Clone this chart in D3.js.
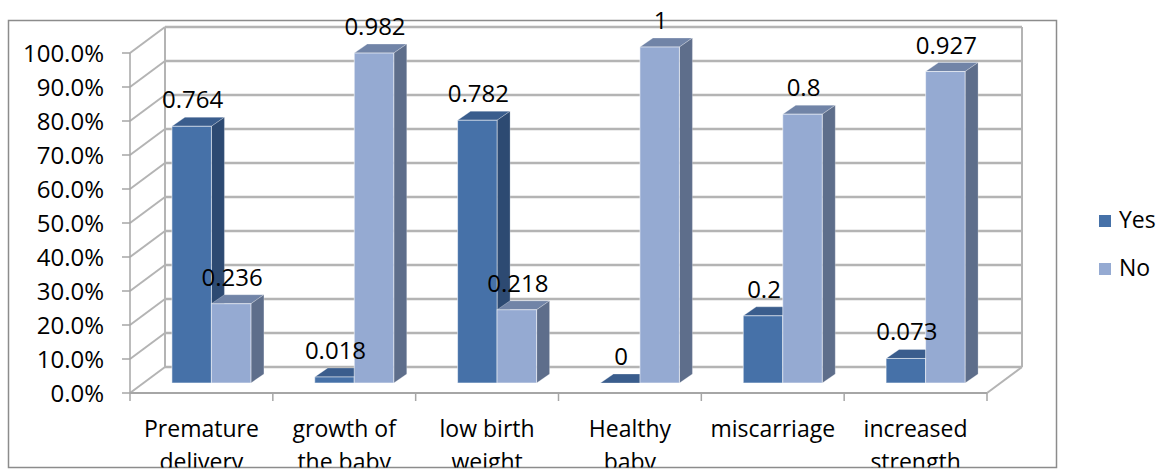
<!DOCTYPE html>
<html>
<head>
<meta charset="utf-8">
<script src="https://cdn.jsdelivr.net/npm/d3@7"></script>
<style>
  body { margin: 0; background: #fff; }
  text { font-family: "Open Sans", "Noto Sans", sans-serif; fill: #000; }
</style>
</head>
<body>
<svg id="chart" width="1169" height="469"></svg>
<script>
// Survey results: share answering Yes / No for each outcome
const categories = ["Premature\ndelivery", "growth of\nthe baby", "low birth\nweight", "Healthy\nbaby", "miscarriage", "increased\nstrength"];
const seriesNames = ["Yes", "No"];
const yesValues = [0.764, 0.018, 0.782, 0, 0.2, 0.073];
const noValues  = [0.236, 0.982, 0.218, 1, 0.8, 0.927];
const yTicks = [0, 0.1, 0.2, 0.3, 0.4, 0.5, 0.6, 0.7, 0.8, 0.9, 1.0];

const colors = {
  Yes: { front: "#4671a8", top: "#3a5d8d", side: "#2d4a72" },
  No:  { front: "#95aad2", top: "#7184a7", side: "#5e6e8b" }
};

const svg = d3.select("#chart");

// everything below the frame's bottom edge is cut away
svg.append("defs").append("clipPath").attr("id", "frameClip")
  .append("rect").attr("x", 0).attr("y", 0).attr("width", 1169).attr("height", 467.5);
const g = svg.append("g").attr("clip-path", "url(#frameClip)");

// front plane of the 3D box
const left = 130, right = 987, floorY = 393, topY = 53;
const wall = { dx: 35, dy: -26 };          // depth offset of the back wall
const barDepth = { dx: 13, dy: -9 };       // depth of each column
const barPlane = { dx: 10, base: 383, top: 47 }; // plane where column fronts sit

const x = d3.scaleBand().domain(categories).range([left, right]);
const yAxis = d3.scaleLinear().domain([0, 1]).range([floorY, topY]);
const yBar = d3.scaleLinear().domain([0, 1]).range([barPlane.base, barPlane.top]);
const xs = d3.scaleBand().domain(seriesNames).range([-39.5, 39.5]);

const gridColor = "#b4b4b4";
const numFont = "24px";
const catFont = "23px";

// chart frame (drawn first so texts sit over it)
svg.insert("rect", ":first-child").attr("x", 8.5).attr("y", 20.5).attr("width", 1048).attr("height", 447)
  .attr("fill", "none").attr("stroke", "#8c8c8c").attr("stroke-width", 1.5);

// side wall and back wall gridlines
yTicks.forEach(t => {
  const y0 = yAxis(t);
  g.append("line").attr("x1", left).attr("y1", y0).attr("x2", left + wall.dx).attr("y2", y0 + wall.dy)
    .attr("stroke", gridColor).attr("stroke-width", 2);
  g.append("line").attr("x1", left + wall.dx).attr("y1", y0 + wall.dy).attr("x2", right + wall.dx).attr("y2", y0 + wall.dy)
    .attr("stroke", gridColor).attr("stroke-width", 2.5);
});
// wall edges
g.append("line").attr("x1", left + wall.dx).attr("y1", yAxis(1) + wall.dy).attr("x2", left + wall.dx).attr("y2", yAxis(0) + wall.dy)
  .attr("stroke", gridColor).attr("stroke-width", 2);
g.append("line").attr("x1", right + wall.dx).attr("y1", yAxis(1) + wall.dy).attr("x2", right + wall.dx).attr("y2", yAxis(0) + wall.dy)
  .attr("stroke", gridColor).attr("stroke-width", 2);
// floor edges
g.append("line").attr("x1", right).attr("y1", floorY).attr("x2", right + wall.dx).attr("y2", floorY + wall.dy)
  .attr("stroke", gridColor).attr("stroke-width", 2);
g.append("line").attr("x1", left).attr("y1", floorY).attr("x2", right).attr("y2", floorY)
  .attr("stroke", "#a6a6a6").attr("stroke-width", 2);
// front value axis
g.append("line").attr("x1", left).attr("y1", yAxis(1)).attr("x2", left).attr("y2", floorY)
  .attr("stroke", "#a6a6a6").attr("stroke-width", 1.5);

// value axis ticks and labels
const fmt = d3.format(".1%");
yTicks.forEach(t => {
  g.append("line").attr("x1", left - 8).attr("y1", yAxis(t)).attr("x2", left).attr("y2", yAxis(t))
    .attr("stroke", "#a6a6a6").attr("stroke-width", 1.5);
  g.append("text").attr("x", left - 26).attr("y", yAxis(t)).attr("dy", "0.36em")
    .attr("text-anchor", "end").style("font-size", numFont).text(fmt(t));
});

// category ticks
const bounds = categories.map(c => x(c)).concat([right]);
bounds.forEach(b => {
  g.append("line").attr("x1", b).attr("y1", floorY).attr("x2", b).attr("y2", floorY + 8)
    .attr("stroke", "#a6a6a6").attr("stroke-width", 1.5);
});

// category labels
categories.forEach(c => {
  const cx = x(c) + x.bandwidth() / 2;
  const t = g.append("text").attr("x", cx).attr("y", 437)
    .attr("text-anchor", "middle").style("font-size", catFont);
  c.split("\n").forEach((line, i) => {
    t.append("tspan").attr("x", cx).attr("y", 437 + i * 33).text(line);
  });
});

// 3D columns
const series = { Yes: yesValues, No: noValues };
const labels = [];
categories.forEach((c, i) => {
  const cx = x(c) + x.bandwidth() / 2 + barPlane.dx;
  seriesNames.forEach(s => {
    const v = series[s][i];
    const x0 = cx + xs(s), x1 = x0 + xs.bandwidth();
    const yt = yBar(v), yb = yBar(0);
    const col = colors[s];
    const dx = barDepth.dx, dy = barDepth.dy;
    // top face
    g.append("polygon")
      .attr("points", [[x0, yt], [x0 + dx, yt + dy], [x1 + dx, yt + dy], [x1, yt]].map(p => p.join(",")).join(" "))
      .attr("fill", col.top).attr("stroke", "rgba(255,255,255,0.35)").attr("stroke-width", 0.8);
    // side face
    g.append("polygon")
      .attr("points", [[x1, yt], [x1 + dx, yt + dy], [x1 + dx, yb + dy], [x1, yb]].map(p => p.join(",")).join(" "))
      .attr("fill", col.side).attr("stroke", "rgba(255,255,255,0.3)").attr("stroke-width", 0.8);
    // front face
    if (yb - yt > 0) {
      g.append("rect").attr("x", x0).attr("y", yt).attr("width", x1 - x0).attr("height", yb - yt)
        .attr("fill", col.front).attr("stroke", "rgba(255,255,255,0.55)").attr("stroke-width", 1);
    }
    labels.push({ x: (x0 + x1) / 2 + 1, y: yt - 18, v });
  });
});

// data labels
labels.forEach(d => {
  g.append("text").attr("x", d.x).attr("y", d.y).attr("text-anchor", "middle")
    .style("font-size", numFont).text(String(d.v));
});

// legend
seriesNames.forEach((s, i) => {
  const ly = 215 + i * 48;
  g.append("rect").attr("x", 1099).attr("y", ly).attr("width", 12).attr("height", 12).attr("fill", colors[s].front);
  g.append("text").attr("x", 1119).attr("y", ly + 13).style("font-size", "23px").text(s);
});
</script>
</body>
</html>
